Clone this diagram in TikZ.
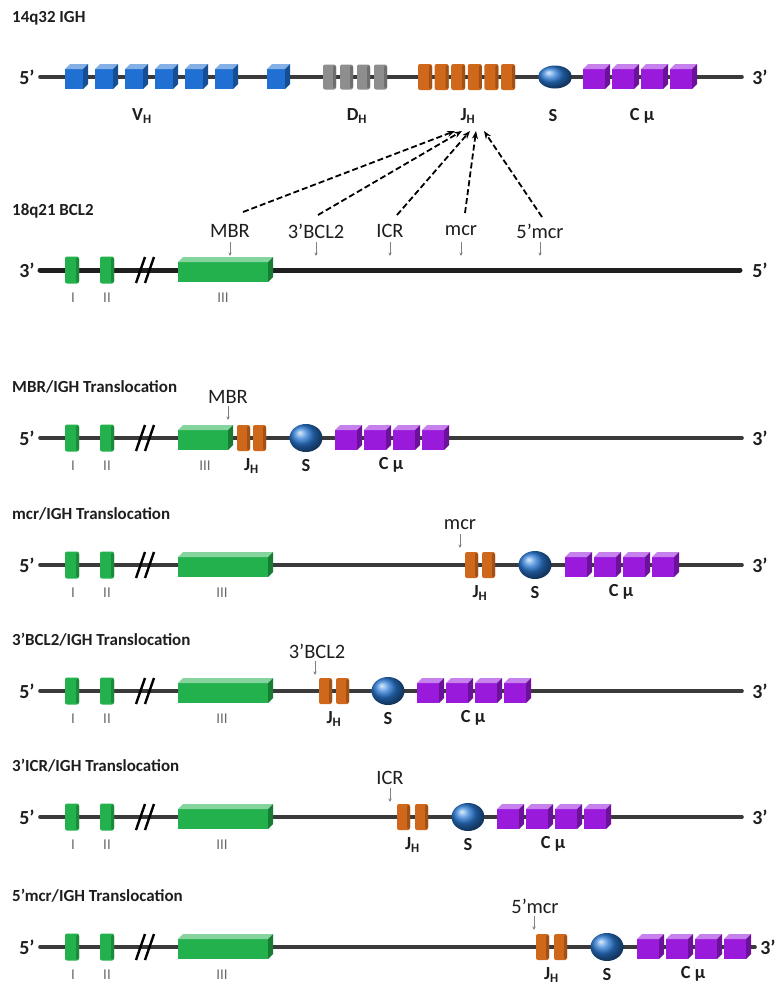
\documentclass[tikz,border=0pt]{standalone}
\usepackage{fontspec}
\setmainfont{Carlito}
\usetikzlibrary{arrows.meta}
\definecolor{vblue}{HTML}{1F70D2}
\definecolor{dgray}{HTML}{8E8E8E}
\definecolor{jorange}{HTML}{D0681C}
\definecolor{cpurple}{HTML}{9A1ADC}
\definecolor{egreen}{HTML}{22B14C}
\definecolor{sblue}{HTML}{2A7AD6}
\definecolor{chrom}{HTML}{3A3A3A}
\definecolor{txt}{HTML}{1E1E1E}
\definecolor{romgray}{HTML}{6A6A6A}
\newcommand{\sq}{\symbol{39}}
\tikzset{
  chromline/.style={line width=3.6bp, draw=chrom, line cap=round},
  bclline/.style={line width=5bp, draw=black!88, line cap=round},
  rowtitle/.style={font=\fontsize{17}{19}\selectfont\bfseries, text=txt, anchor=west, inner sep=0pt},
  endlab/.style={font=\fontsize{20}{22}\selectfont\bfseries, text=txt, inner sep=0pt},
  toplab/.style={font=\fontsize{18.5}{20}\selectfont\bfseries, text=txt, inner sep=0pt},
  romlab/.style={font=\fontsize{15}{17}\selectfont, text=romgray, inner sep=0pt},
  bplab/.style={font=\fontsize{20.5}{22}\selectfont, text=txt, inner sep=0pt},
  bparrow/.style={draw=gray, line width=0.7bp, -{Stealth[length=3.5bp,width=3.2bp]}},
  dasharrow/.style={draw=black, line width=1.8bp, dash pattern=on 6bp off 3bp, -{Stealth[length=8bp,width=6bp]}},
  breakmark/.style={draw=black, line width=2.4bp},
}
% cube: #1 left, #2 line y, #3 total width, #4 colour
\newcommand{\dcube}[4]{%
  \fill[#4] ({#1},{#2-8}) rectangle ({#1+#3-5},{#2+12});
  \fill[#4!55!white] ({#1},{#2-8}) -- ({#1+5},{#2-13}) -- ({#1+#3},{#2-13}) -- ({#1+#3-5},{#2-8}) -- cycle;
  \fill[#4!70!black] ({#1+#3-5},{#2+12}) -- ({#1+#3},{#2+7}) -- ({#1+#3},{#2-13}) -- ({#1+#3-5},{#2-8}) -- cycle;
}
% rounded box: #1 left, #2 line y, #3 width, #4 height, #5 colour
\newcommand{\rbox}[5]{%
  \fill[#5, rounded corners=2bp] ({#1},{#2-#4/2}) rectangle ({#1+#3},{#2+#4/2});
  \fill[#5!78!black, rounded corners=1.5bp] ({#1+#3-3},{#2-#4/2+1}) rectangle ({#1+#3},{#2+#4/2-1});
}
% BCL2 exons: #1 id, #2 line y, #3 width of exon III, #4 III label x
\newcommand{\greenpart}[4]{%
  \rbox{65}{#2}{14}{27}{egreen}
  \rbox{100}{#2}{14}{27}{egreen}
  \draw[breakmark] (136,{#2+13}) -- (145,{#2-13});
  \draw[breakmark] (145,{#2+13}) -- (154,{#2-13});
  \dcube{178}{#2}{#3}{egreen}
  \node[romlab] (#1ei) at (73,{#2+28}) {I};
  \node[romlab] (#1eii) at (107,{#2+28}) {II};
  \node[romlab] (#1eiii) at (#4,{#2+28}) {III};
}
% IGH part: #1 id, #2 line y, #3 J1 left, #4 J2 left, #5 S centre, #6 C left
\newcommand{\ighpart}[6]{%
  \rbox{#3}{#2}{13}{26}{jorange}
  \rbox{#4}{#2}{13}{26}{jorange}
  \shade[ball color=sblue] (#5,#2) ellipse [x radius=16.5bp, y radius=14bp];
  \dcube{#6}{#2}{27}{cpurple}
  \dcube{#6+29}{#2}{27}{cpurple}
  \dcube{#6+58}{#2}{27}{cpurple}
  \dcube{#6+87}{#2}{27}{cpurple}
  \node[toplab] (#1jh) at ({(#3+#4+13)/2},{#2+28}) {J\textsubscript{H}};
  \node[toplab] (#1s) at (#5,{#2+28}) {S};
  \node[toplab] (#1c) at ({#6+56},{#2+27}) {C μ};
}
\begin{document}
\begin{tikzpicture}[x=1bp,y=-1bp]
\fill[white] (0,0) rectangle (783,996);
\useasboundingbox (0,0) rectangle (783,996);

% ---------------- Row 1: 14q32 IGH
\node[rowtitle] (t1) at (12,18) {14q32 IGH};
\draw[chromline] (40,77) -- (742,77);
\node[endlab] (r1l) at (27,77) {5\sq};
\node[endlab] (r1r) at (760,77) {3\sq};
\foreach \xx in {65,95,125,155,185,215,267} {\dcube{\xx}{77}{23}{vblue}}
\foreach \xx in {323,340,357,374} {\rbox{\xx}{77}{13}{25}{dgray}}
\foreach \xx in {418,434.6,451.2,467.8,484.4,501} {\rbox{\xx}{77}{14}{26}{jorange}}
\shade[ball color=sblue] (555,77) ellipse [x radius=17bp, y radius=11.5bp];
\foreach \xx in {583,612,641,670} {\dcube{\xx}{77}{27}{cpurple}}
\node[toplab] (vh) at (142,116) {V\textsubscript{H}};
\node[toplab] (dh) at (357,116) {D\textsubscript{H}};
\node[toplab] (jh) at (468,116) {J\textsubscript{H}};
\node[toplab] (s1) at (553,116) {S};
\node[toplab] (c1) at (642,116) {C μ};

% ---------------- Row 2: 18q21 BCL2
\node[rowtitle] (t2) at (12,211) {18q21 BCL2};
\draw[bclline] (40,270) -- (740,270);
\node[endlab] (r2l) at (27,270) {3\sq};
\node[endlab] (r2r) at (760,270) {5\sq};
\greenpart{b}{270}{95}{223}
\node[bplab] (bMBR) at (230,231) {MBR};
\node[bplab] (bBCL) at (316,231) {3\sq BCL2};
\node[bplab] (bICR) at (390,231) {ICR};
\node[bplab] (bmcr) at (461,231) {mcr};
\node[bplab] (b5mcr) at (540,231) {5\sq mcr};
\foreach \nm/\xx in {MBR/230,BCL/316,ICR/390,mcr/461,5mcr/540} {
  \coordinate (a\nm) at (\xx,242);
  \coordinate (z\nm) at (\xx,256);
  \draw[bparrow] (a\nm) -- (z\nm);
}
\coordinate (dMBR) at (243,212);
\coordinate (dBCL) at (318,215);
\coordinate (dICR) at (397,215);
\coordinate (dmcr) at (465,213);
\coordinate (d5mcr) at (542,217);
\coordinate (jMBR) at (455,131);
\coordinate (jBCL) at (462,131);
\coordinate (jICR) at (470,131);
\coordinate (jmcr) at (476,131);
\coordinate (j5mcr) at (484,131);
\foreach \nm in {MBR,BCL,ICR,mcr,5mcr} {\draw[dasharrow] (d\nm) -- (j\nm);}

% ---------------- Row 3: MBR/IGH
\node[rowtitle] (t3) at (12,387) {MBR/IGH Translocation};
\draw[chromline] (40,438) -- (742,438);
\node[endlab] (r3l) at (27,438) {5\sq};
\node[endlab] (r3r) at (760,438) {3\sq};
\greenpart{c}{438}{55}{205}
\ighpart{c}{438}{237}{253}{306}{335}
\node[bplab] (cMBR) at (228,397) {MBR};
\coordinate (caMBR) at (228,406);
\coordinate (czMBR) at (228,420);
\draw[bparrow] (caMBR) -- (czMBR);

% ---------------- Row 4: mcr/IGH
\node[rowtitle] (t4) at (12,514) {mcr/IGH Translocation};
\draw[chromline] (40,565) -- (742,565);
\node[endlab] (r4l) at (27,565) {5\sq};
\node[endlab] (r4r) at (760,565) {3\sq};
\greenpart{d}{565}{95}{222}
\ighpart{d}{565}{465}{482}{535}{565}
\node[bplab] (dmcrl) at (460,525) {mcr};
\coordinate (damcr) at (460,534);
\coordinate (dzmcr) at (460,548);
\draw[bparrow] (damcr) -- (dzmcr);

% ---------------- Row 5: 3'BCL2/IGH
\node[rowtitle] (t5) at (12,640) {3\sq BCL2/IGH Translocation};
\draw[chromline] (40,691) -- (742,691);
\node[endlab] (r5l) at (27,691) {5\sq};
\node[endlab] (r5r) at (760,691) {3\sq};
\greenpart{e}{691}{95}{222}
\ighpart{e}{691}{319}{336}{388}{417}
\node[bplab] (eBCL) at (317,651) {3\sq BCL2};
\coordinate (eaBCL) at (315,661);
\coordinate (ezBCL) at (315,675);
\draw[bparrow] (eaBCL) -- (ezBCL);

% ---------------- Row 6: 3'ICR/IGH
\node[rowtitle] (t6) at (12,766) {3\sq ICR/IGH Translocation};
\draw[chromline] (40,817) -- (742,817);
\node[endlab] (r6l) at (27,817) {5\sq};
\node[endlab] (r6r) at (760,817) {3\sq};
\greenpart{f}{817}{95}{222}
\ighpart{f}{817}{397}{415}{468}{497}
\node[bplab] (fICR) at (390,778) {ICR};
\coordinate (faICR) at (390,788);
\coordinate (fzICR) at (390,802);
\draw[bparrow] (faICR) -- (fzICR);

% ---------------- Row 7: 5'mcr/IGH
\node[rowtitle] (t7) at (12,896) {5\sq mcr/IGH Translocation};
\draw[chromline] (40,947) -- (755,947);
\node[endlab] (r7l) at (27,947) {5\sq};
\node[endlab] (r7r) at (768,947) {3\sq};
\greenpart{g}{947}{95}{222}
\ighpart{g}{947}{536}{554}{607}{637}
\node[bplab] (g5mcr) at (535,906) {5\sq mcr};
\coordinate (ga5mcr) at (534,916);
\coordinate (gz5mcr) at (534,930);
\draw[bparrow] (ga5mcr) -- (gz5mcr);
\end{tikzpicture}
\end{document}
